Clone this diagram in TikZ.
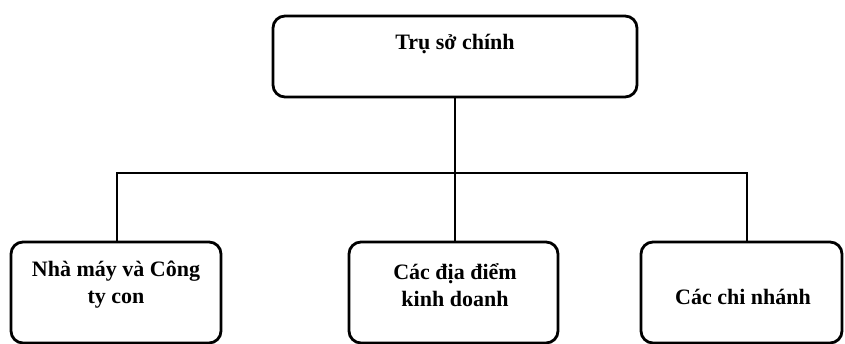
\documentclass[tikz,border=0pt]{standalone}
\usepackage{fontspec}
\setmainfont{Liberation Serif}
\begin{document}
\begin{tikzpicture}[x=1pt,y=-1pt,
  orgbox/.style={draw=black, line width=2.8pt, rounded corners=12pt},
  link/.style={draw=black, line width=2.8pt},
  lbl/.style={font=\bfseries\fontsize{22}{27}\selectfont, align=center, inner sep=0pt}]
\useasboundingbox (0,0) rectangle (845,344);
\begin{scope}
\clip (0,0) rectangle (845,344);
% boxes
\draw[orgbox] (273,16) rectangle (637,97);
\coordinate (hq) at (455,97);
\draw[orgbox] (11,242) rectangle (221,343);
\draw[orgbox] (349,242) rectangle (558,343);
\draw[orgbox] (641,242) rectangle (842,343);
\coordinate (c1) at (117,242);
\coordinate (c2) at (455,242);
\coordinate (c3) at (747,242);
\coordinate (bus) at (455,173);
% labels
\node[lbl] (t0) at (455,44) {Trụ sở chính};
\node[lbl] (t1) at (116,285) {Nhà máy và Công\\ty con};
\node[lbl] (t2) at (455,285) {Các địa điểm\\kinh doanh};
\node[lbl] (t3) at (743,297) {Các chi nhánh};
% connectors
\draw[link] (hq) -- (bus);
\draw[link] (c1) |- (bus) -| (c3);
\draw[link] (bus) -- (c2);
\end{scope}
\end{tikzpicture}
\end{document}
